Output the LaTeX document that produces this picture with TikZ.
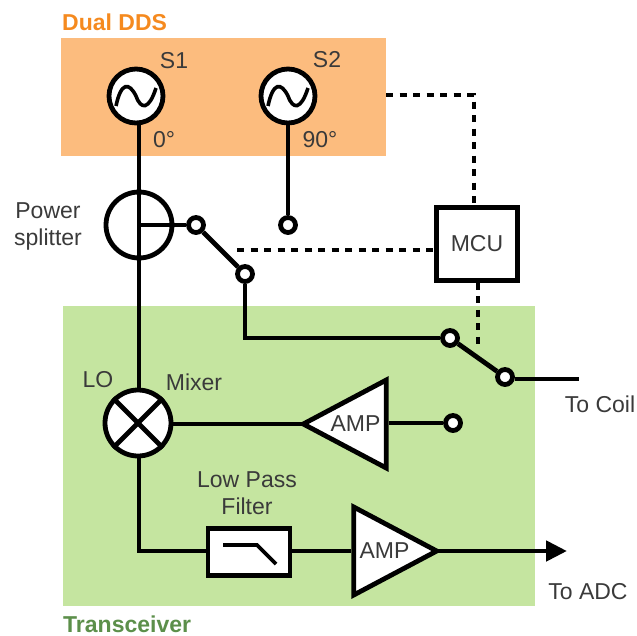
\documentclass[tikz,border=0pt]{standalone}
\usepackage{fontspec}
\setmainfont{Liberation Sans}
\usetikzlibrary{shapes.geometric,arrows.meta}
\definecolor{ddsfill}{HTML}{FCBC7E}
\definecolor{ddstext}{HTML}{F58A1F}
\definecolor{rxfill}{HTML}{C5E5A0}
\definecolor{rxtext}{HTML}{5C8F4A}
\definecolor{labeltext}{HTML}{3A3A3A}
\tikzset{
  wire/.style={line width=4.8pt},
  ctrl/.style={line width=3.2pt, dash pattern=on 7pt off 6.5pt},
  lbl/.style={font=\fontsize{23}{27}\selectfont, text=labeltext, align=center, inner sep=0pt},
  blocktitle/.style={font=\fontsize{23}{27}\selectfont\bfseries, inner sep=0pt},
  ring/.style={draw, circle, fill=white, line width=4.8pt, minimum size=#1, inner sep=0pt},
  port/.style={ring=15pt},
  box/.style={draw, rectangle, fill=white, line width=4.8pt, inner sep=0pt},
  amp/.style={draw, isosceles triangle, isosceles triangle stretches, fill=white, line width=4.8pt,
    minimum width=88pt, minimum height=83pt, inner sep=0pt, text=labeltext,
    font=\fontsize{23}{27}\selectfont}
}
\begin{document}
\begin{tikzpicture}[x=1pt,y=-1pt]
  \useasboundingbox (0,0) rectangle (637,635);
  \fill[ddsfill] (61,38) rectangle (386,156);
  \fill[rxfill] (63,306) rectangle (535,606);

  \node[ring=54pt] (sa) at (136,96) {};
  \node[ring=54pt] (sb) at (288,96) {};
  \node[ring=66pt] (splitter) at (139,225) {};
  \node[ring=66pt] (mixer) at (138,423) {};
  \node[port] (pa) at (196,225) {};
  \node[port] (pb) at (288,225) {};
  \node[port] (pc) at (245,274) {};
  \node[port] (pd) at (450,338) {};
  \node[port] (pe) at (505,377) {};
  \node[port] (pf) at (453,423) {};
  \node[box, minimum width=81pt, minimum height=73pt, font=\fontsize{23}{27}\selectfont, text=labeltext] (mcu) at (477,244) {MCU};
  \node[box, minimum width=82pt, minimum height=47pt] (lpf) at (249,552) {};
  \node[amp, shape border rotate=180, anchor=apex] (ampa) at (297,424) {AMP\hspace{6pt}};
  \node[amp, anchor=apex] (ampb) at (443,551) {AMP};
  \coordinate (coilend) at (579,379);
  \coordinate (adcend) at (567,551);
  \coordinate (bend) at (139,551);

  \foreach \n in {sa,sb}
    \draw[line width=3.6pt, shift={(\n.center)}] (-20,10) .. controls (-15,-14) and (-7,-14) .. (0,0) .. controls (5,14) and (13,14) .. (20,-8);

  \draw[wire] (sa.south -| splitter.center) -- (mixer.north -| splitter.center);
  \draw[wire] (sb) -- (pb);
  \draw[wire] (splitter.center) -- (pa);
  \draw[wire] (pa) -- (pc);
  \draw[wire] (pc) |- (pd);
  \draw[wire] (pd) -- (pe);
  \draw[wire] (pe.east |- coilend) -- (coilend);
  \draw[wire] (mixer.east |- ampa.apex) -- ([xshift=6pt]ampa.apex);
  \draw[wire] (ampa.lower side |- pf) -- (pf);
  \draw[wire, line join=miter] (mixer.south -| bend) -- (bend) -- (lpf.west |- bend);
  \draw[wire] (lpf.east |- ampb.apex) -- (ampb.lower side |- ampb.apex);
  \draw[wire, -{Triangle[length=21pt,width=20pt]}] ([xshift=-5pt]ampb.apex) -- (adcend);
  \draw[wire] (mixer.north west) -- (mixer.south east);
  \draw[wire] (mixer.north east) -- (mixer.south west);
  \draw[line width=3.6pt, shift={(lpf.center)}] (-26,-7) -- (8,-7) -- (27,12);

  \coordinate (ddstap) at (386,95);
  \coordinate (ddscorner) at (474,95);
  \coordinate (swctrl) at (237,250);
  \coordinate (rxctrl) at (478,345);
  \draw[ctrl] (ddstap) -- (ddscorner) -- (ddscorner |- mcu.north);
  \draw[ctrl] (swctrl) -- (swctrl -| mcu.west);
  \draw[ctrl] (rxctrl |- mcu.south) -- (rxctrl);

  \node[blocktitle, text=ddstext, anchor=west] (ddslabel) at (62,22) {Dual DDS};
  \node[blocktitle, text=rxtext, anchor=west] (rxlabel) at (63,624) {Transceiver};
  \node[lbl] (slabela) at (174,61) {S1};
  \node[lbl] (slabelb) at (327,60) {S2};
  \node[lbl] (phasea) at (164,140) {0°};
  \node[lbl] (phaseb) at (320,140) {90°};
  \node[lbl] (splitlabel) at (48,226) {Power\\splitter};
  \node[lbl] (lolabel) at (98,380) {LO};
  \node[lbl] (mixlabel) at (194,382) {Mixer};
  \node[lbl] (lpflabel) at (247,493) {Low Pass\\Filter};
  \node[lbl] (coillabel) at (600,404) {To Coil};
  \node[lbl] (adclabel) at (588,592) {To ADC};
\end{tikzpicture}
\end{document}
